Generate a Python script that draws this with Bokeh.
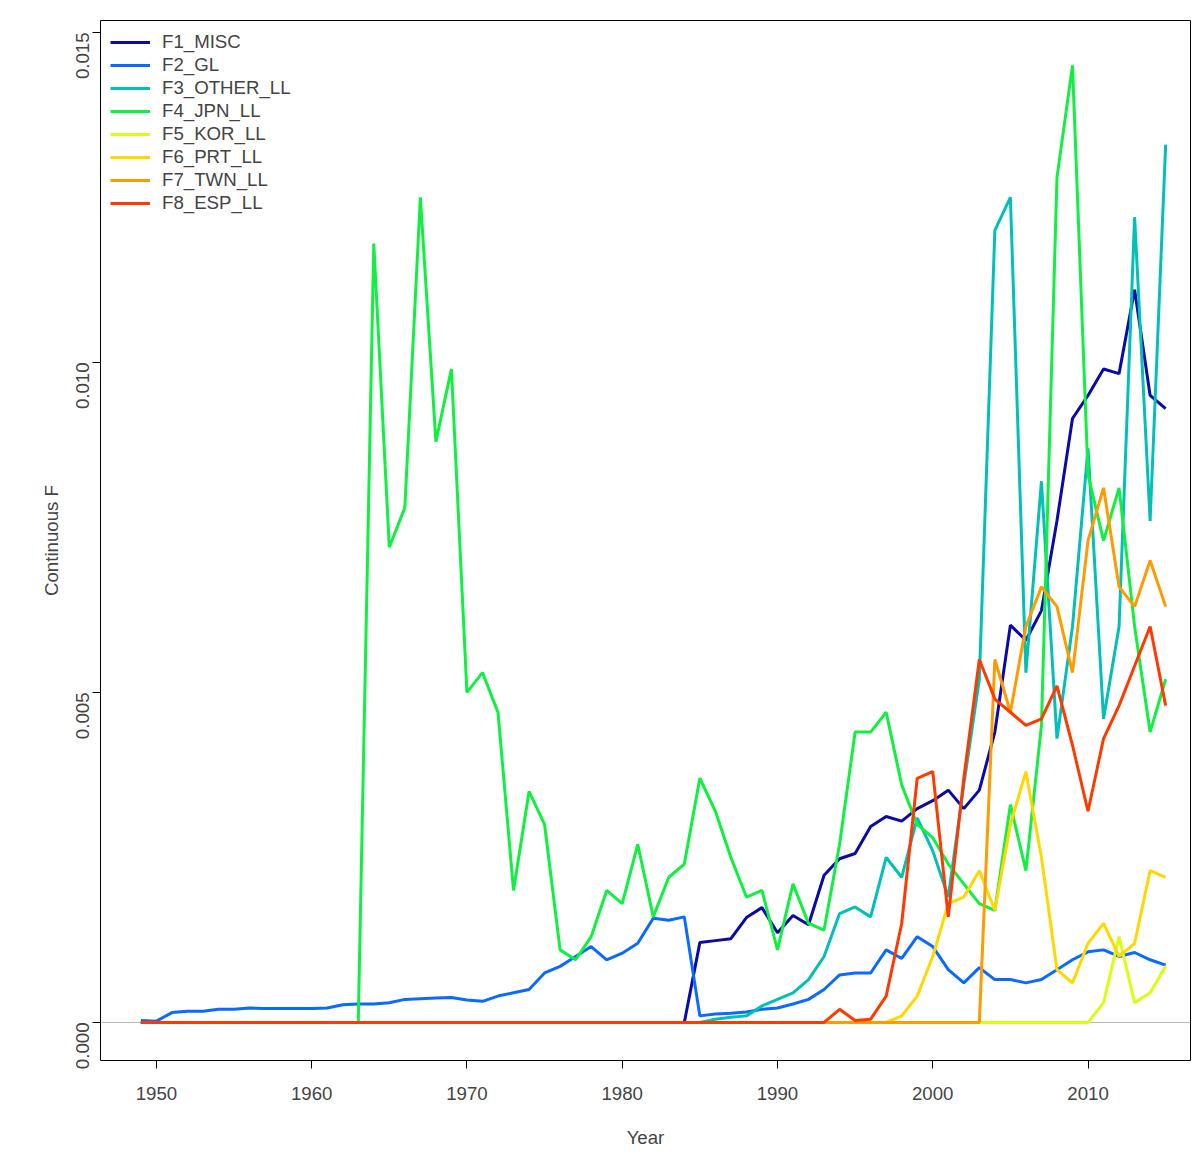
import numpy as np
from bokeh.plotting import figure
from bokeh.models import Span, FixedTicker, Legend
from bokeh.embed import file_html
from bokeh.resources import INLINE

years = list(range(1949, 2016))

f1 = [0.0]*36 + [0.00121, 0.00124, 0.00127, 0.00159, 0.00174, 0.00136, 0.00162, 0.00148, 0.00223, 0.00248,
                 0.00256, 0.00297, 0.00312, 0.00305, 0.00324, 0.00336, 0.00352, 0.00324, 0.00352, 0.0044,
                 0.00602, 0.00579, 0.00624, 0.0076, 0.00915, 0.0095, 0.0099, 0.00983, 0.0111, 0.0095, 0.0093]
f2 = [0.00003, 0.00002, 0.00015, 0.00017, 0.00017, 0.0002, 0.0002, 0.00022, 0.00021, 0.00021,
      0.00021, 0.00021, 0.00022, 0.00027, 0.00028, 0.00028, 0.0003, 0.00035, 0.00036, 0.00037,
      0.00038, 0.00034, 0.00032, 0.0004, 0.00045, 0.0005, 0.00075, 0.00085, 0.001, 0.00115,
      0.00095, 0.00105, 0.0012, 0.00158, 0.00155, 0.0016, 0.0001, 0.00013, 0.00014, 0.00016,
      0.0002, 0.00022, 0.00028, 0.00035, 0.0005, 0.00072, 0.00075, 0.00075, 0.0011, 0.00097,
      0.0013, 0.00115, 0.0008, 0.0006, 0.00083, 0.00065, 0.00065, 0.0006, 0.00065, 0.0008,
      0.00095, 0.00107, 0.0011, 0.001, 0.00106, 0.00095, 0.00087]
f3 = [0.0]*37 + [0.00005, 0.00008, 0.0001, 0.00025, 0.00035, 0.00045, 0.00065, 0.001, 0.00165,
                 0.00175, 0.0016, 0.0025, 0.0022, 0.0031, 0.0026, 0.0019, 0.0036, 0.0052, 0.0120,
                 0.0125, 0.0053, 0.0082, 0.0043, 0.0060, 0.0087, 0.0046, 0.0060, 0.0122, 0.0076, 0.0133]
f4 = [0.0]*15 + [0.0118, 0.0072, 0.0078, 0.0125, 0.0088, 0.0099, 0.005, 0.0053, 0.0047, 0.002,
                 0.0035, 0.003, 0.0011, 0.00095, 0.0013, 0.002, 0.0018, 0.0027, 0.0016, 0.0022,
                 0.0024, 0.0037, 0.0032, 0.0025, 0.0019, 0.002, 0.0011, 0.0021, 0.0015, 0.0014,
                 0.0027, 0.0044, 0.0044, 0.0047, 0.0036, 0.003, 0.0028, 0.0024, 0.0021, 0.0018,
                 0.0017, 0.0033, 0.0023, 0.0045, 0.0128, 0.0145, 0.0083, 0.0073, 0.0081, 0.0060,
                 0.0044, 0.0052]
f5 = [0.0]*62 + [0.0003, 0.0013, 0.0003, 0.00045, 0.00085]
f6 = [0.0]*49 + [0.0001, 0.0004, 0.001, 0.0018, 0.0019, 0.0023, 0.0017, 0.003, 0.0038, 0.0025,
                 0.0008, 0.0006, 0.0012, 0.0015, 0.001, 0.0012, 0.0023, 0.0022]
f7 = [0.0]*55 + [0.0055, 0.0047, 0.006, 0.0066, 0.0063, 0.0053, 0.0073, 0.0081, 0.0066, 0.0063,
                 0.0070, 0.0063]
f8 = [0.0]*45 + [0.0002, 0.00003, 0.00005, 0.0004, 0.0015, 0.0037, 0.0038, 0.0016, 0.0037, 0.0055,
                 0.0049, 0.0047, 0.0045, 0.0046, 0.0051, 0.0042, 0.0032, 0.0043, 0.0048, 0.0054,
                 0.0060, 0.0048]

names = ["F1_MISC", "F2_GL", "F3_OTHER_LL", "F4_JPN_LL", "F5_KOR_LL", "F6_PRT_LL", "F7_TWN_LL", "F8_ESP_LL"]
series = [f1, f2, f3, f4, f5, f6, f7, f8]
colors = ["#0A0AAA", "#0A6AFF", "#00C0B8", "#10F040", "#D8FF10", "#FFD800", "#FF9A00", "#FF3A00"]

p = figure(frame_width=1090, frame_height=1040, output_backend="svg", toolbar_location=None,
           x_range=(1946.4, 2016.6), y_range=(-0.000576, 0.01518),
           x_axis_label="Year", y_axis_label="Continuous F",
           min_border_left=100, min_border_right=1, min_border_top=20, min_border_bottom=88)
p.grid.visible = False
p.outline_line_color = "black"
p.outline_line_width = 1
p.background_fill_color = "white"

p.add_layout(Span(location=0, dimension="width", line_color="#BBBBBB", line_width=1, level="underlay"))

items = []
for name, vals, c in zip(names, series, colors):
    r = p.line(years, vals, line_color=c, line_width=3)
    items.append((name, [r]))

leg = Legend(items=items, location="top_left", border_line_alpha=0, background_fill_alpha=0,
             label_text_font="Liberation Sans", label_text_font_size="14pt", spacing=0,
             glyph_width=40, glyph_height=18, margin=4, padding=6, label_height=23,
             label_standoff=12)
p.add_layout(leg)

p.xaxis.ticker = FixedTicker(ticks=[1950, 1960, 1970, 1980, 1990, 2000, 2010])
p.yaxis.ticker = FixedTicker(ticks=[0.0, 0.005, 0.010, 0.015])
p.yaxis.major_label_overrides = {0.0: "0.000", 0.005: "0.005", 0.01: "0.010", 0.015: "0.015"}
p.yaxis.major_label_orientation = np.pi/2
for ax in (p.xaxis, p.yaxis):
    ax.minor_tick_line_color = None
    ax.major_tick_out = 8
    ax.major_tick_in = 0
    ax.major_label_text_font = "Liberation Sans"
    ax.major_label_text_font_size = "14pt"
    ax.axis_label_text_font = "Liberation Sans"
    ax.axis_label_text_font_size = "14pt"
    ax.axis_label_text_font_style = "normal"
    ax.axis_line_color = None
    ax.major_label_standoff = 10
p.xaxis.major_label_standoff = 18
p.xaxis.axis_label_standoff = 24

open("out.html", "w").write(file_html(p, INLINE))
